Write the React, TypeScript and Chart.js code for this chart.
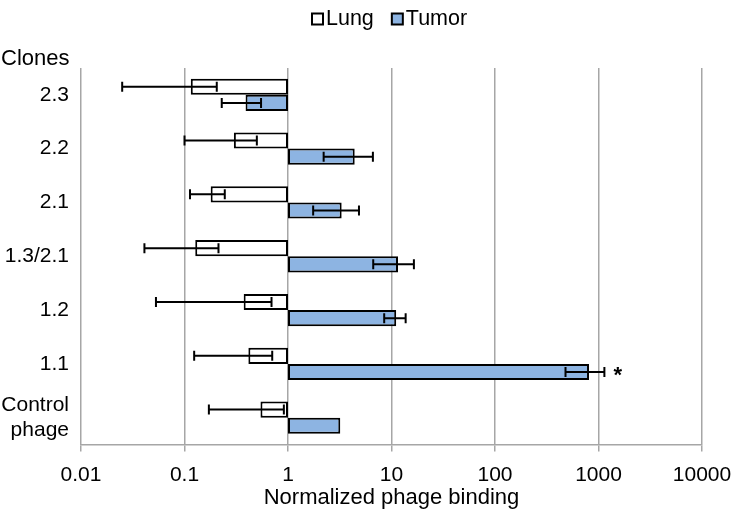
import React, { useEffect, useRef } from 'react';
import { Chart, registerables } from 'chart.js';

Chart.register(...registerables);

const categories: (string | string[])[] = ['2.3', '2.2', '2.1', '1.3/2.1', '1.2', '1.1', ['Control', 'phage']];
const lungMean = [0.115, 0.30, 0.179, 0.127, 0.373, 0.414, 0.542];
const lungErr: (number | null)[] = [0.09, 0.2, 0.066, 0.086, 0.32, 0.29, 0.37];
const tumorMean = [0.389, 4.41, 3.3, 11.56, 11.1, 810, 3.2];
const tumorErr: (number | null)[] = [0.16, 2.2, 1.55, 4.9, 2.6, 330, null];
const tumorMarks = ['', '', '', '', '', '*', ''];
const barBase = 1;
const tickValues = [0.01, 0.1, 1, 10, 100, 1000, 10000];
const tickLabels = ['0.01', '0.1', '1', '10', '100', '1000', '10000'];
const seriesNames = ['Lung', 'Tumor'];
const seriesColors = ['#ffffff', '#8db4e2'];

const FONT = "'Liberation Sans', Arial, Helvetica, sans-serif";
const GRID = '#a6a6a6';

const errorBarPlugin = {
  id: 'errorBars',
  afterDatasetsDraw(chart: any) {
    const ctx = chart.ctx;
    const xs = chart.scales.x;
    const errs = [lungErr, tumorErr];
    const means = [lungMean, tumorMean];
    ctx.save();
    ctx.strokeStyle = '#000';
    ctx.lineWidth = 2;
    errs.forEach((err, di) => {
      const meta = chart.getDatasetMeta(di);
      meta.data.forEach((bar: any, j: number) => {
        const e = err[j];
        if (e == null) return;
        const y = bar.y;
        const x1 = xs.getPixelForValue(means[di][j] - e);
        const x2 = xs.getPixelForValue(means[di][j] + e);
        ctx.beginPath();
        ctx.moveTo(x1, y);
        ctx.lineTo(x2, y);
        ctx.moveTo(x1, y - 5);
        ctx.lineTo(x1, y + 5);
        ctx.moveTo(x2, y - 5);
        ctx.lineTo(x2, y + 5);
        ctx.stroke();
      });
    });
    const tmeta = chart.getDatasetMeta(1);
    ctx.fillStyle = '#000';
    ctx.font = `bold 22px ${FONT}`;
    ctx.textBaseline = 'alphabetic';
    ctx.textAlign = 'left';
    tumorMarks.forEach((m, j) => {
      if (!m) return;
      const x = xs.getPixelForValue(tumorMean[j] + (tumorErr[j] ?? 0));
      ctx.fillText(m, x + 9, tmeta.data[j].y + 10);
    });
    ctx.restore();
  },
};

const legendPlugin = {
  id: 'customLegend',
  afterDraw(chart: any) {
    const ctx = chart.ctx;
    ctx.save();
    ctx.font = `21.5px ${FONT}`;
    ctx.textBaseline = 'middle';
    ctx.textAlign = 'left';
    let x = 312;
    const cy = 19;
    seriesNames.forEach((name, i) => {
      ctx.fillStyle = seriesColors[i];
      ctx.fillRect(x, cy - 5.5, 11, 11);
      ctx.strokeStyle = '#000';
      ctx.lineWidth = 2;
      ctx.strokeRect(x, cy - 5.5, 11, 11);
      ctx.fillStyle = '#000';
      ctx.fillText(name, x + 14, cy);
      x += 14 + ctx.measureText(name).width + 18;
    });
    ctx.restore();
  },
};

export default function App() {
  const ref = useRef<HTMLCanvasElement | null>(null);
  useEffect(() => {
    if (!ref.current) return;
    Chart.defaults.font.family = FONT;
    Chart.defaults.font.size = 21;
    Chart.defaults.color = '#000';
    const chart = new Chart(ref.current, {
      type: 'bar',
      data: {
        labels: categories as any,
        datasets: seriesNames.map((name, i) => ({
          label: name,
          data: (i === 0 ? lungMean : tumorMean).map((v) => [barBase, v]),
          backgroundColor: seriesColors[i],
          borderColor: '#000000',
          borderWidth: 2,
          borderSkipped: false,
          categoryPercentage: 0.6,
          barPercentage: 1.0,
        })) as any,
      },
      options: {
        indexAxis: 'y',
        animation: false,
        responsive: true,
        maintainAspectRatio: false,
        layout: { padding: { left: 1, right: 0, top: 38, bottom: 0 } },
        plugins: {
          legend: { display: false },
          subtitle: {
            display: true,
            text: 'Clones',
            align: 'start',
            color: '#000',
            font: { size: 22, family: FONT, weight: 'normal' },
            padding: { top: 8, bottom: -4.5 },
          },
          tooltip: { enabled: false },
        },
        scales: {
          x: {
            type: 'logarithmic',
            min: 0.01,
            max: 10000,
            afterBuildTicks: (scale: any) => {
              scale.ticks = tickValues.map((v) => ({ value: v }));
            },
            afterFit: (scale: any) => {
              scale.paddingLeft = 0;
              scale.paddingRight = 31;
            },
            ticks: {
              autoSkip: false,
              maxRotation: 0,
              padding: 11,
              color: '#000',
              font: { size: 21, family: FONT },
              callback: (_v: any, i: number) => tickLabels[i],
            },
            grid: { color: GRID, lineWidth: 1.5, tickLength: 7, drawTicks: true },
            border: { color: GRID, width: 1.5 },
            title: {
              display: true,
              text: 'Normalized phage binding',
              color: '#000',
              font: { size: 22, family: FONT },
              padding: { top: -13.7, bottom: 2.5 },
            },
          },
          y: {
            type: 'category',
            afterFit: (scale: any) => {
              scale.width = 80;
            },
            grid: { display: false, drawTicks: false },
            border: { display: false },
            ticks: {
              autoSkip: false,
              padding: 12,
              color: '#000',
              font: { size: 21, family: FONT },
            },
          },
        },
      } as any,
      plugins: [errorBarPlugin, legendPlugin],
    });
    return () => chart.destroy();
  }, []);
  return (
    <div style={{ position: 'fixed', left: 0, top: 0, width: 733, height: 514, background: '#fff' }}>
      <canvas ref={ref} />
    </div>
  );
}
